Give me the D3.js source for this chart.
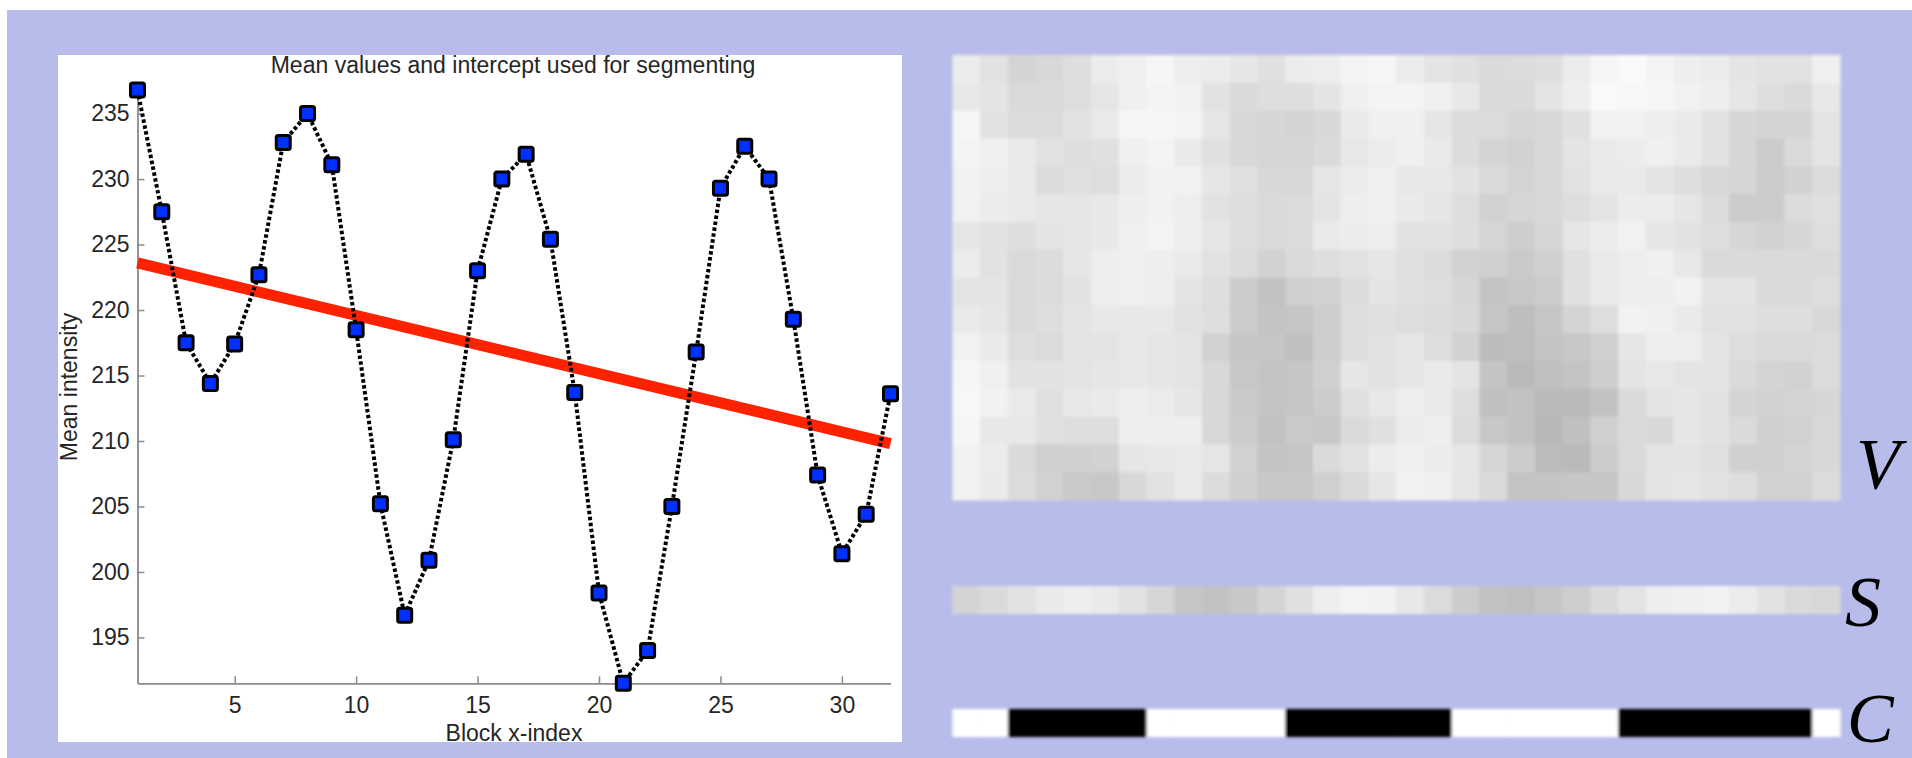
<!DOCTYPE html>
<html>
<head>
<meta charset="utf-8">
<script src="https://cdn.jsdelivr.net/npm/d3@7"></script>
<style>
  body { margin: 0; background: #fff; }
  svg { display: block; }
</style>
</head>
<body>
<svg id="fig" width="1912" height="758"></svg>
<script>
// block means (one per block column)
var blockIndex = d3.range(1, 33);
var meanValues = [236.8, 227.5, 217.5, 214.4, 217.4, 222.7, 232.8, 235.0,
                  231.1, 218.5, 205.2, 196.7, 200.9, 210.1, 223.0, 230.0,
                  231.9, 225.4, 213.7, 198.4, 191.5, 194.0, 205.0, 216.8,
                  229.3, 232.5, 230.0, 219.3, 207.4, 201.4, 204.4, 213.6];
// fitted intercept line (start / end)
var interceptX = [1, 32];
var interceptY = [223.6, 209.8];
var yTicks = [195, 200, 205, 210, 215, 220, 225, 230, 235];
var xTicks = [5, 10, 15, 20, 25, 30];

// V : 16 rows x 32 block columns, grey levels
var vRows = [
  [236,226,212,216,222,236,240,246,238,236,230,224,236,238,244,246, 236,228,224,218,220,222,236,246,250,244,238,236,228,226,226,240],
  [232,228,218,218,222,230,240,244,242,226,218,222,222,228,240,244, 244,240,232,218,218,228,238,250,248,246,242,238,230,222,218,232],
  [246,226,220,220,226,234,246,246,244,230,216,214,212,216,234,240, 240,230,220,220,214,216,224,242,242,238,234,226,214,212,212,228],
  [244,240,234,226,222,224,240,244,234,224,216,214,214,218,232,236, 240,234,220,212,210,216,228,234,236,240,234,226,214,204,218,228],
  [242,238,234,220,224,222,236,242,242,230,224,216,216,230,236,240, 232,232,226,218,212,216,226,234,234,228,222,216,214,204,210,220],
  [242,236,234,230,230,232,238,242,238,226,222,218,220,228,238,240, 234,230,222,210,214,216,222,228,236,236,230,220,204,204,220,224],
  [230,226,222,228,230,232,240,244,238,230,222,218,220,234,236,238, 226,226,222,214,206,214,230,236,242,230,226,222,214,210,214,222],
  [236,226,218,220,230,238,240,238,234,226,220,210,218,222,226,230, 224,220,210,208,202,208,224,234,238,240,232,218,218,218,218,218],
  [228,228,218,220,226,238,240,238,228,222,204,194,208,210,220,228, 224,222,214,196,200,204,224,234,238,238,242,228,228,218,218,222],
  [234,230,218,222,228,232,232,232,226,222,204,196,198,206,222,224, 222,220,216,198,190,198,212,222,242,240,234,226,226,222,222,216],
  [242,234,222,220,228,228,232,230,228,210,198,198,192,206,222,226, 230,222,210,188,190,196,200,208,230,238,238,228,222,218,218,220],
  [246,240,226,226,228,230,232,230,228,216,200,196,198,208,230,226, 230,234,228,196,186,192,196,206,228,232,228,228,218,212,210,220],
  [248,242,234,224,232,234,238,236,230,216,202,196,198,204,224,232, 238,234,222,192,194,186,186,194,218,228,230,226,212,210,212,214],
  [246,232,232,224,222,222,238,238,238,216,204,194,202,200,218,224, 236,238,220,200,194,184,192,208,218,216,230,226,218,208,210,216],
  [242,236,218,208,208,210,230,232,234,230,210,196,198,218,226,236, 240,236,230,214,204,188,186,204,218,228,228,224,208,208,212,216],
  [242,234,220,210,202,200,216,226,234,220,208,200,200,208,218,230, 242,240,230,218,196,196,198,198,216,228,230,226,222,210,210,220]
];
// S : one row of grey levels
var sRow = [212,218,226,234,238,234,226,214,198,194,200,212,224,238,244,242,
            232,220,204,194,192,198,206,218,228,238,240,242,236,226,218,216];
// C : segmentation (1 = black)
var cRow = [0,0,1,1,1,1,1,0,0,0,0,0,1,1,1,1,1,1,0,0,0,0,0,0,1,1,1,1,1,1,1,0];

var svg = d3.select("#fig");
var font = "'Liberation Sans', Arial, sans-serif";
var textColor = "#262626";

var defs = svg.append("defs");
defs.append("filter").attr("id", "soft")
    .attr("x", "-5%").attr("y", "-20%").attr("width", "110%").attr("height", "140%")
  .append("feGaussianBlur").attr("stdDeviation", 1.8);

// page background
svg.append("rect").attr("x", 7).attr("y", 10)
    .attr("width", 1905).attr("height", 748).attr("fill", "#b8bcea");

// ---------- left : line chart ----------
svg.append("rect").attr("x", 58).attr("y", 55)
    .attr("width", 844).attr("height", 687).attr("fill", "#fff");

var x = d3.scaleLinear().domain([1, 32]).range([137.5, 890.5]);
var y = d3.scaleLinear().domain([191.5, 236.8]).range([683.3, 90]);

var g = svg.append("g");

var xAxis = g.append("g")
    .attr("transform", "translate(0," + y.range()[0] + ")")
    .call(d3.axisBottom(x).tickValues(xTicks).tickSize(-7).tickSizeOuter(0).tickPadding(13));
var yAxis = g.append("g")
    .attr("transform", "translate(" + x.range()[0] + ",0)")
    .call(d3.axisLeft(y).tickValues(yTicks).tickSize(-7).tickSizeOuter(0).tickPadding(8));
[xAxis, yAxis].forEach(function(a) {
  a.select(".domain").attr("stroke", "#8a8a8a").attr("stroke-width", 1.8);
  a.selectAll(".tick line").attr("stroke", "#8a8a8a").attr("stroke-width", 1.5);
  a.selectAll(".tick text").attr("fill", textColor)
    .style("font-family", font).style("font-size", "23px");
});

// intercept line
g.append("path")
    .datum(interceptX.map(function(d, i) { return [d, interceptY[i]]; }))
    .attr("fill", "none")
    .attr("stroke", "#ff2200")
    .attr("stroke-width", 11)
    .attr("d", d3.line().x(function(d) { return x(d[0]); }).y(function(d) { return y(d[1]); }));

// dotted mean line
g.append("path")
    .datum(meanValues)
    .attr("fill", "none")
    .attr("stroke", "#000")
    .attr("stroke-width", 4)
    .attr("stroke-dasharray", "3.5,2.5")
    .attr("d", d3.line().x(function(d, i) { return x(blockIndex[i]); }).y(function(d) { return y(d); }));

g.selectAll(".marker")
    .data(meanValues)
    .enter().append("rect")
      .attr("class", "marker")
      .attr("x", function(d, i) { return x(blockIndex[i]) - 7; })
      .attr("y", function(d) { return y(d) - 7; })
      .attr("width", 14)
      .attr("height", 14)
      .attr("rx", 2)
      .attr("fill", "#0030ff")
      .attr("stroke", "#000")
      .attr("stroke-width", 3);

g.append("text")
    .attr("x", 513).attr("y", 73)
    .attr("text-anchor", "middle")
    .attr("fill", textColor)
    .style("font-family", font).style("font-size", "23px")
    .text("Mean values and intercept used for segmenting");
g.append("text")
    .attr("x", 514).attr("y", 741)
    .attr("text-anchor", "middle")
    .attr("fill", textColor)
    .style("font-family", font).style("font-size", "23px")
    .text("Block x-index");
g.append("text")
    .attr("transform", "translate(77,387) rotate(-90)")
    .attr("text-anchor", "middle")
    .attr("fill", textColor)
    .style("font-family", font).style("font-size", "23px")
    .text("Mean intensity");

// ---------- right : V, S, C strips ----------
var col = d3.scaleBand().domain(d3.range(32)).range([952.4, 1840]);
var row = d3.scaleBand().domain(d3.range(16)).range([55, 500]);
function grey(v) { return d3.rgb(v, v, v).toString(); }

var vg = svg.append("g").attr("filter", "url(#soft)");
vg.selectAll("g")
    .data(vRows)
    .enter().append("g")
    .each(function(r, ri) {
      d3.select(this).selectAll("rect")
        .data(r)
        .enter().append("rect")
          .attr("x", function(d, ci) { return col(ci); })
          .attr("y", row(ri))
          .attr("width", col.bandwidth() + 0.6)
          .attr("height", row.bandwidth() + 0.6)
          .attr("fill", grey);
    });

var sg = svg.append("g").attr("filter", "url(#soft)");
sg.selectAll("rect")
    .data(sRow)
    .enter().append("rect")
      .attr("x", function(d, i) { return col(i); })
      .attr("y", 586)
      .attr("width", col.bandwidth() + 0.6)
      .attr("height", 28)
      .attr("fill", grey);

var cg = svg.append("g").attr("filter", "url(#soft)");
cg.selectAll("rect")
    .data(cRow)
    .enter().append("rect")
      .attr("x", function(d, i) { return col(i); })
      .attr("y", 709)
      .attr("width", col.bandwidth() + 0.6)
      .attr("height", 28)
      .attr("fill", function(d) { return d ? "#000" : "#fff"; });

// strip names: text, x, baseline, size
var labels = [["V", 1856, 488, 72], ["S", 1845, 626, 72], ["C", 1847, 742, 70]];
svg.selectAll(".lab")
    .data(labels)
    .enter().append("text")
      .attr("class", "lab")
      .attr("x", function(d) { return d[1]; })
      .attr("y", function(d) { return d[2]; })
      .attr("fill", "#000")
      .style("font-family", "'Liberation Serif', 'Times New Roman', serif")
      .style("font-style", "italic")
      .style("font-size", function(d) { return d[3] + "px"; })
      .text(function(d) { return d[0]; });
</script>
</body>
</html>
